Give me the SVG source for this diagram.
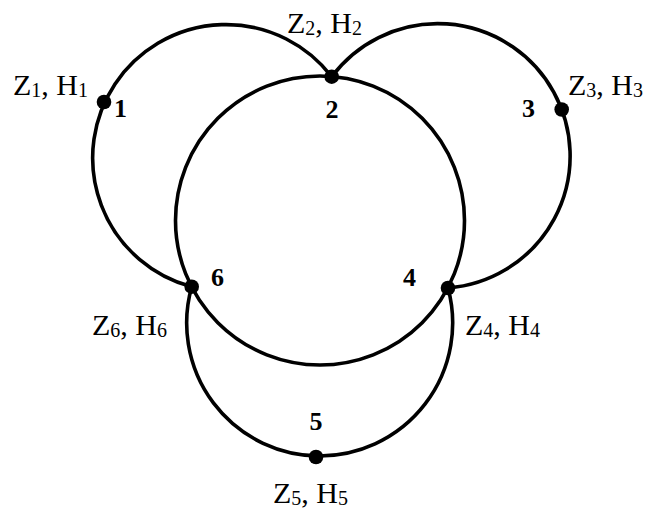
<svg xmlns="http://www.w3.org/2000/svg" width="654" height="513" viewBox="0 0 654 513">
<style>
.arc{fill:none;stroke:#000;stroke-width:3.6}
.dot{fill:#000}
.lbl{font-family:"Liberation Serif","Times New Roman",serif;font-size:30px;fill:#000}
.s{font-size:20px}
.num{font-family:"Liberation Serif","Times New Roman",serif;font-size:26px;font-weight:bold;fill:#000}
</style>
<rect width="654" height="513" fill="#fff"/>
<g id="connectors">
<circle class="arc" cx="320" cy="220.5" r="144.5"/>
<path class="arc" d="M191.7 286.7 A133.3 133.3 0 1 1 331.7 76.7"/>
<path class="arc" d="M331.7 76.7 A132.4 132.4 0 1 1 448 288"/>
<path class="arc" d="M448 288 A133 133 0 1 1 191.7 286.7"/>
</g>
<g id="node1">
<circle class="dot" cx="104" cy="102" r="7.3"/>
<text class="num" x="114" y="117">1</text>
<text class="lbl" x="13" y="95">Z<tspan class="s" dy="2">1</tspan><tspan dy="-2">, H</tspan><tspan class="s" dy="2">1</tspan></text>
</g>
<g id="node2">
<circle class="dot" cx="331.7" cy="76.7" r="7.3"/>
<text class="num" x="332" y="118" text-anchor="middle">2</text>
<text class="lbl" x="287" y="33">Z<tspan class="s" dy="2">2</tspan><tspan dy="-2">, H</tspan><tspan class="s" dy="2">2</tspan></text>
</g>
<g id="node3">
<circle class="dot" cx="561.7" cy="109.5" r="7.3"/>
<text class="num" x="522" y="117">3</text>
<text class="lbl" x="568" y="95">Z<tspan class="s" dy="2">3</tspan><tspan dy="-2">, H</tspan><tspan class="s" dy="2">3</tspan></text>
</g>
<g id="node4">
<circle class="dot" cx="448" cy="288" r="7.3"/>
<text class="num" x="403" y="286">4</text>
<text class="lbl" x="465" y="335">Z<tspan class="s" dy="2">4</tspan><tspan dy="-2">, H</tspan><tspan class="s" dy="2">4</tspan></text>
</g>
<g id="node5">
<circle class="dot" cx="316" cy="457" r="7.3"/>
<text class="num" x="316" y="430" text-anchor="middle">5</text>
<text class="lbl" x="273" y="503">Z<tspan class="s" dy="2">5</tspan><tspan dy="-2">, H</tspan><tspan class="s" dy="2">5</tspan></text>
</g>
<g id="node6">
<circle class="dot" cx="191.7" cy="286.7" r="7.3"/>
<text class="num" x="211" y="286">6</text>
<text class="lbl" x="92" y="335">Z<tspan class="s" dy="2">6</tspan><tspan dy="-2">, H</tspan><tspan class="s" dy="2">6</tspan></text>
</g>
</svg>
